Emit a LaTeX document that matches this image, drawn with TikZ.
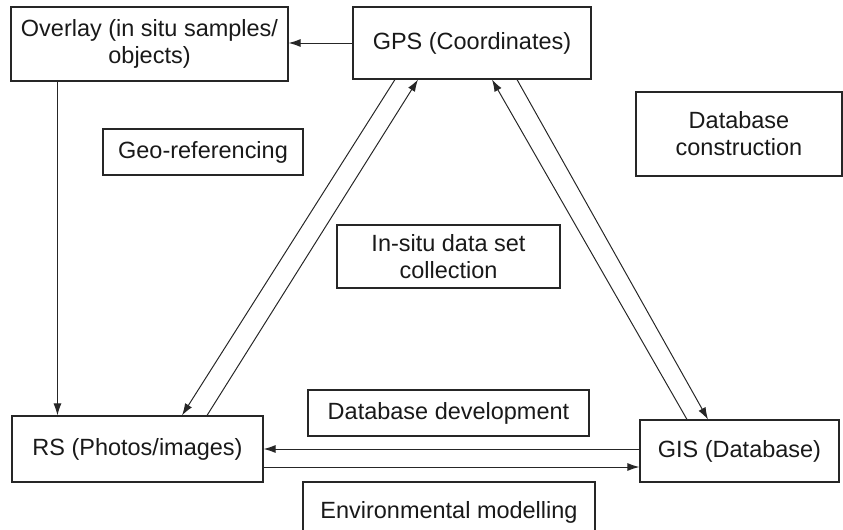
\documentclass[tikz,border=0pt]{standalone}
\usepackage{fontspec}
\setmainfont{Liberation Sans}
\usetikzlibrary{arrows.meta}
\usetikzlibrary{positioning}

\begin{document}
\begin{tikzpicture}[x=0.025cm,y=-0.025cm,
  box/.style={draw=black!85,line width=0.8pt,inner sep=0pt,align=center,text=black!90,
    font=\fontsize{16.7}{19.2}\selectfont},
  link/.style={draw=black!85,line width=0.7pt},
  flow/.style={link,-{Latex[length=0.3cm,width=0.2cm]}}]
\useasboundingbox (0,0) rectangle (843,530);
\clip (0,0) rectangle (843,530);

\node[box,minimum width=277*0.025cm,minimum height=74*0.025cm] (ovl) at (149.5,44) {Overlay (in situ samples/\\objects)};
\node[box,minimum width=238*0.025cm,minimum height=72*0.025cm] (gps) at (472,43) {GPS (Coordinates)};
\node[box,minimum width=200*0.025cm,minimum height=46*0.025cm] (geo) at (203,152) {Geo-referencing};
\node[box,minimum width=206*0.025cm,minimum height=84*0.025cm] (dbc) at (739,134) {Database\\construction};
\node[box,minimum width=223*0.025cm,minimum height=63*0.025cm] (situ) at (448.5,256.5) {In-situ data set\\collection};
\node[box,minimum width=281*0.025cm,minimum height=46*0.025cm] (dbd) at (448.5,413) {Database development};
\node[box,minimum width=251*0.025cm,minimum height=66*0.025cm] (rs) at (137.5,449) {RS (Photos/images)};
\node[box,minimum width=199*0.025cm,minimum height=62*0.025cm] (gis) at (739.5,451) {GIS (Database)};
\node[box,minimum width=292*0.025cm,minimum height=60*0.025cm] (env) at (449,512) {Environmental modelling};

% GPS to overlay, overlay down to RS
\draw[flow] (gps.west) -- (gps.west -| ovl.east);
\draw[flow] ([xshift=1.175cm]ovl.south west) -- ([xshift=1.175cm]ovl.south west |- rs.north);

% GPS <-> RS
\draw[flow] ([xshift=-1.925cm]gps.south) -- ([xshift=1.1125cm]rs.north);
\draw[flow] ([xshift=1.7375cm]rs.north) -- ([xshift=-1.35cm]gps.south);

% GPS <-> GIS
\draw[flow] ([xshift=1.125cm]gps.south) -- ([xshift=-0.7875cm]gis.north);
\draw[flow] ([xshift=-1.3125cm]gis.north) -- ([xshift=0.5cm]gps.south);

% GIS <-> RS
\draw[flow] (rs.east -| gis.west) -- (rs.east);
\draw[flow] ([yshift=-0.45cm]rs.east) -- ([yshift=-0.45cm]rs.east -| gis.west);

\end{tikzpicture}
\end{document}
